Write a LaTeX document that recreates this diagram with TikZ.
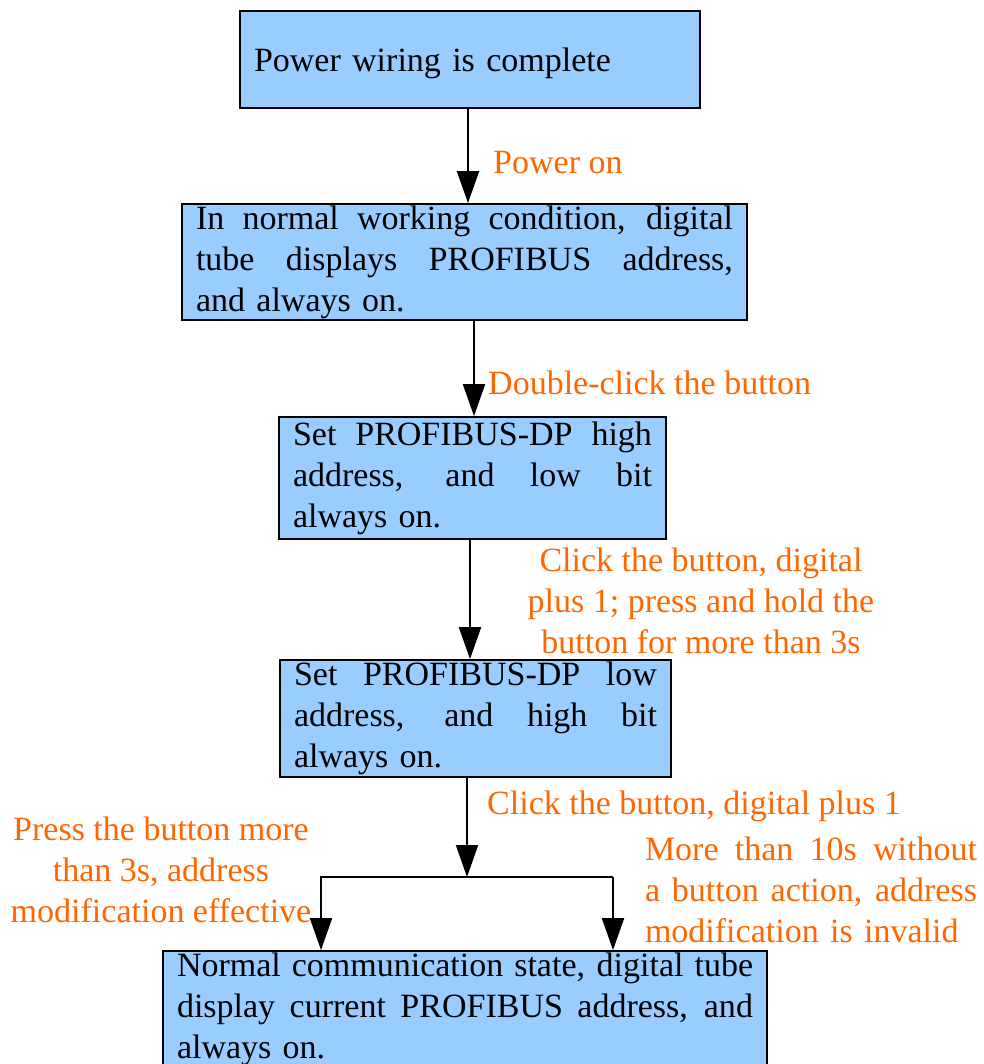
\documentclass[tikz,border=0pt]{standalone}
\usepackage{fontspec}
\setmainfont{Liberation Serif}
\usetikzlibrary{positioning, arrows.meta}
\definecolor{boxblue}{RGB}{153,204,255}
\definecolor{myorange}{RGB}{255,102,0}
\newcommand{\fillline}[2]{\leavevmode\hbox to #1{\spaceskip=0.25em plus 1fill\relax #2}}

\begin{document}
\begin{tikzpicture}
[x=1pt, y=-1pt,
 font=\fontsize{34}{41}\selectfont,
 box/.style={rectangle, draw=black, fill=boxblue, line width=1.8pt, inner xsep=14pt, inner ysep=0pt, align=left},
 lab/.style={text=myorange, inner sep=0pt},
 ->/.style={line width=2pt, line join=miter, arrows={-Triangle[length=32pt, width=22pt]}}]

\useasboundingbox (0,0) rectangle (983,1064);
\clip (0,0) rectangle (983,1064);

% the states
\node[box, text width=432pt, minimum height=97pt] (wired) at (470,59.5) {\raisebox{-4pt}[\height][\depth]{Power wiring is complete}};
\node[box, text width=537pt, minimum height=116pt] (normal) at (464.5,262)
  {\fillline{537pt}{In normal working condition, digital}\\ \fillline{537pt}{tube displays PROFIBUS address,}\\ and always on.};
\node[box, text width=359pt, minimum height=122pt] (sethigh) at (472.5,478)
  {\fillline{359pt}{Set PROFIBUS-DP high}\\ \fillline{359pt}{address, and low bit}\\ always on.};
\node[box, text width=363pt, minimum height=117pt] (setlow) at (475.5,718.5)
  {\fillline{363pt}{Set PROFIBUS-DP low}\\ \fillline{363pt}{address, and high bit}\\ always on.};
\node[box, text width=576pt, minimum height=116pt] (comm) at (465,1009)
  {\fillline{576pt}{Normal communication state, digital tube}\\ \fillline{576pt}{display current PROFIBUS address, and}\\ always on.};

% the events
\node[lab, anchor=west] (lpower) at (493,163) {Power on};
\node[lab, anchor=west] (ldouble) at (488,383) {Double-click the button};
\node[lab, align=center] (lclick) at (701,601) {Click the button, digital\\ plus 1; press and hold the\\ button for more than 3s};
\node[lab, anchor=west] (lplus) at (487,806) {Click the button, digital plus 1};
\node[lab, align=center] (lpress) at (161,870) {Press the button more\\ than 3s, address\\ modification effective};
\node[lab, text width=332pt, align=left] (linvalid) at (811,890)
  {\fillline{332pt}{More than 10s without}\\ \fillline{332pt}{a button action, address}\\ modification is invalid};

\coordinate (split) at (467,877);
\coordinate (sl) at (321,877);
\coordinate (sr) at (613,877);

\draw [->] ([xshift=-2pt]wired.south) -- ([xshift=-2pt]wired.south |- normal.north);
\draw [->] ([xshift=9.5pt]normal.south) -- ([xshift=9.5pt]normal.south |- sethigh.north);
\draw [->] ([xshift=-2.5pt]sethigh.south) -- ([xshift=-2.5pt]sethigh.south |- setlow.north);
\draw [->] (setlow.south -| split) -- (split);
\draw [->] (sr) -- (sl) -- (sl |- comm.north);
\draw [->] (sr) -- (sr |- comm.north);

\end{tikzpicture}
\end{document}
